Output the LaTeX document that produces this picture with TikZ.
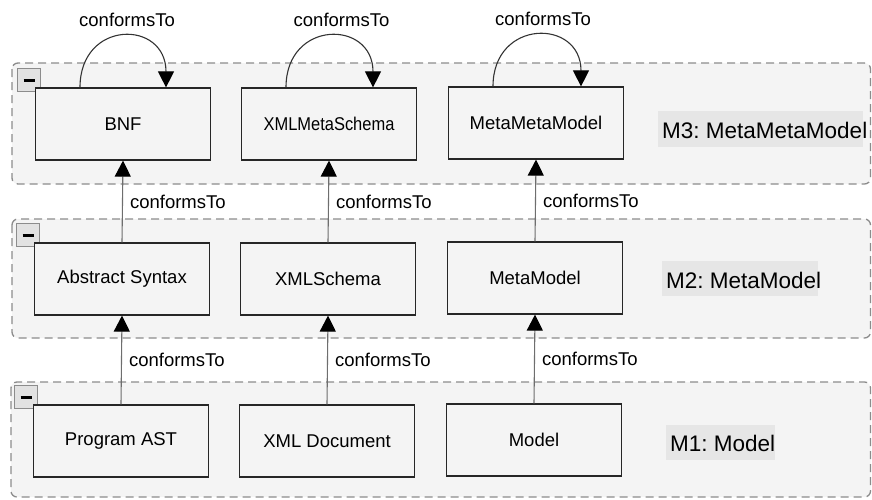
\documentclass[tikz,border=0pt]{standalone}
\usepackage{fontspec}
\setmainfont{Liberation Sans}
\usepackage{graphicx}
\usetikzlibrary{arrows.meta}
\definecolor{layerbg}{HTML}{F4F4F4}
\definecolor{labelbg}{HTML}{E6E6E6}
\definecolor{dashgray}{HTML}{8C8C8C}
\definecolor{linegray}{HTML}{6E6E6E}
\definecolor{minusbg}{HTML}{E2E2E2}
\frenchspacing
\tikzset{
  layer/.style={draw=dashgray, line width=1.3pt, dash pattern=on 8pt off 5pt, rounded corners=6pt, fill=layerbg},
  elem/.style={draw=black!85, line width=1.2pt, fill=layerbg, minimum width=175pt, minimum height=72pt, font=\fontsize{18.5}{22}\selectfont, inner sep=0pt},
  conf/.style={draw=linegray, line width=1.1pt, -{Triangle[length=16pt,width=16pt,color=black]}},
  selfconf/.style={draw=black!80, line width=1.1pt, -{Triangle[length=16pt,width=16pt,color=black]}},
  conflabel/.style={font=\fontsize{18.5}{22}\selectfont, inner sep=2pt},
  layerlabel/.style={font=\fontsize{22.5}{26}\selectfont\frenchspacing, inner sep=0pt, anchor=west},
  minusbox/.style={draw=black!45, fill=minusbg, line width=1pt, minimum size=23pt, inner sep=0pt}
}
\begin{document}
\begin{tikzpicture}[x=1pt,y=-1pt]
\useasboundingbox (0,0) rectangle (872,499);
% layers
\draw[layer] (12,63) rectangle (870.5,184);
\draw[layer] (12,219) rectangle (870.5,338);
\draw[layer] (11,382) rectangle (870.5,497);
% minus boxes
\node[minusbox] (mb3) at (29,80) {\rule{11pt}{3pt}};
\node[minusbox] (mb2) at (28,235) {\rule{11pt}{3pt}};
\node[minusbox] (mb1) at (26,397) {\rule{11pt}{3pt}};
% layer labels
\fill[labelbg] (658,111) rectangle (863,147);
\node[layerlabel] (l3) at (662,130) {M3: MetaMetaModel};
\fill[labelbg] (662,261) rectangle (818,296);
\node[layerlabel] (l2) at (666,280) {M2: MetaModel};
\fill[labelbg] (666,425) rectangle (775,460);
\node[layerlabel] (l1) at (670,443) {M1: Model};
% elements
\node[elem] (bnf) at (123,124) {BNF};
\node[elem] (xmsch) at (329,124) {\scalebox{0.89}[1]{XMLMetaSchema}};
\node[elem] (mmm) at (536,123) {MetaMetaModel};
\node[elem] (ast) at (122,279) {Abstract Syntax};
\node[elem] (xsch) at (328,279) {XMLSchema};
\node[elem] (mm) at (535,278) {MetaModel};
\node[elem] (past) at (121,441) {Program AST};
\node[elem] (xdoc) at (327,441) {XML Document};
\node[elem] (model) at (534,440) {Model};
% self loops
\draw[selfconf] ([xshift=-43pt]bnf.north) .. controls +(0,-68) and +(0,-68) .. ([xshift=43pt]bnf.north)
  node[conflabel, midway, anchor=base, yshift=10pt, xshift=4pt] {conformsTo};
\draw[selfconf] ([xshift=-43pt]xmsch.north) .. controls +(0,-68) and +(0,-68) .. ([xshift=44pt]xmsch.north)
  node[conflabel, midway, anchor=base, yshift=10pt, xshift=12pt] {conformsTo};
\draw[selfconf] ([xshift=-43pt]mmm.north) .. controls +(0,-68) and +(0,-68) .. ([xshift=45pt]mmm.north)
  node[conflabel, midway, anchor=base, yshift=10pt, xshift=6pt] {conformsTo};
% vertical conformsTo
\draw[conf] (ast.north) -- (bnf.south) node[conflabel, midway, right=5pt] {conformsTo};
\draw[conf] (xsch.north) -- (xmsch.south) node[conflabel, midway, right=5pt] {conformsTo};
\draw[conf] (mm.north) -- (mmm.south) node[conflabel, midway, right=5pt] {conformsTo};
\draw[conf] (past.north) -- (ast.south) node[conflabel, midway, right=5pt] {conformsTo};
\draw[conf] (xdoc.north) -- (xsch.south) node[conflabel, midway, right=5pt] {conformsTo};
\draw[conf] (model.north) -- (mm.south) node[conflabel, midway, right=5pt] {conformsTo};
\end{tikzpicture}
\end{document}
